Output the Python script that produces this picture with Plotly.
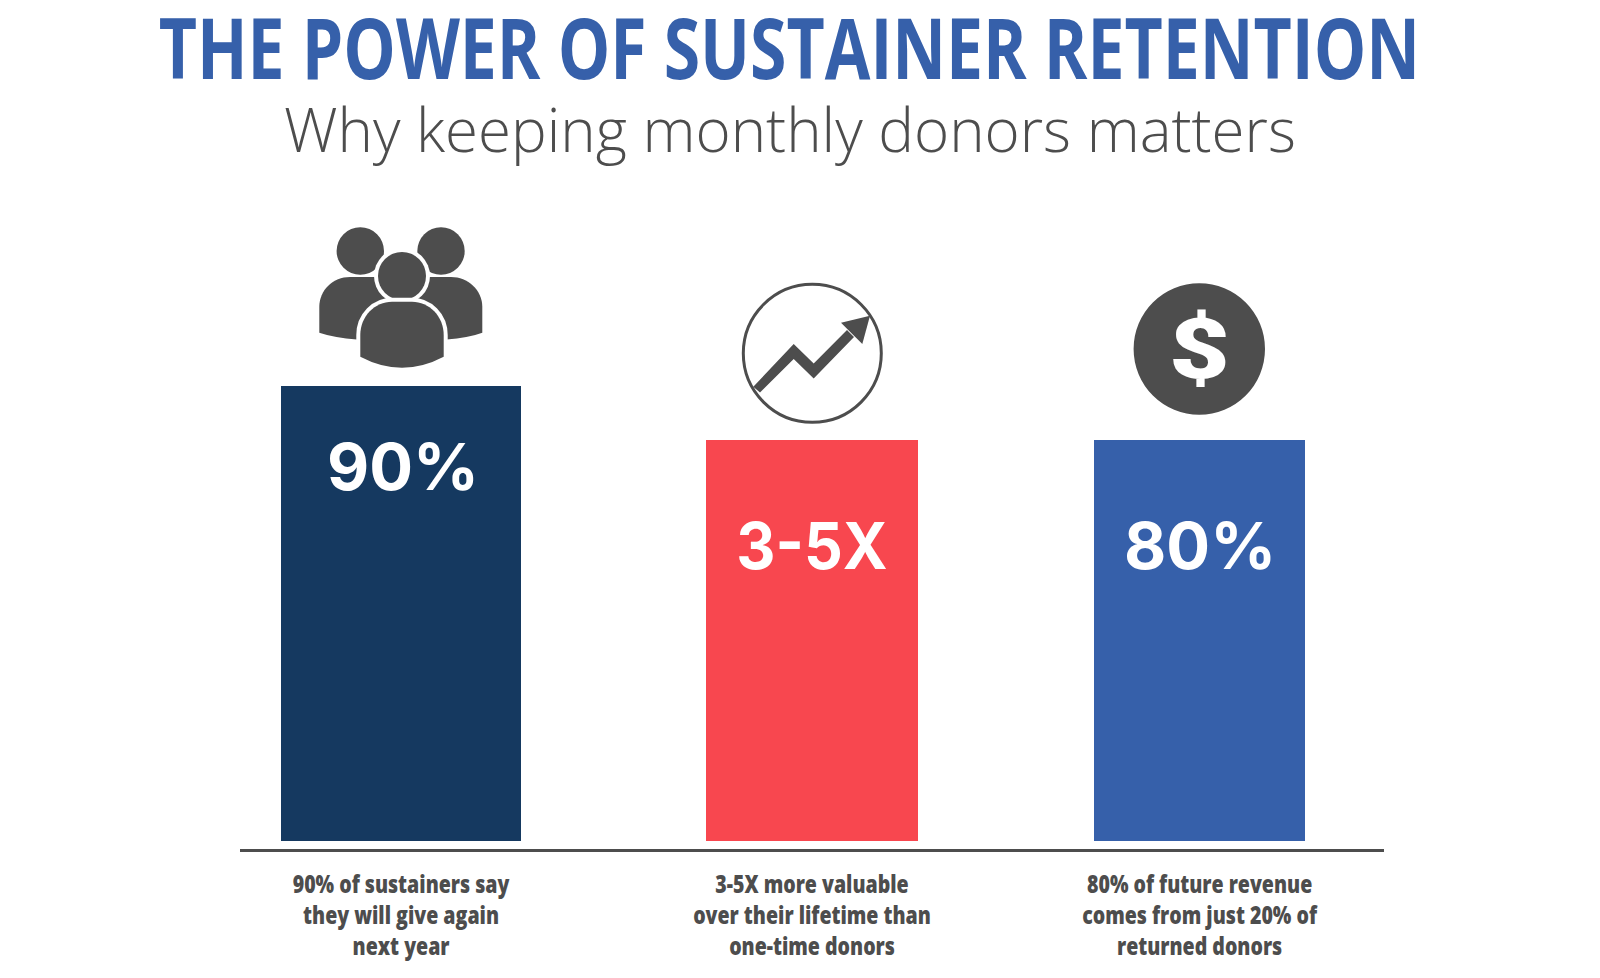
"""
The power of sustainer retention: three bars with icons on top.
"""

import plotly.graph_objects as go

# Data
categories = ["90% of sustainers", "3-5X more valuable", "80% of future revenue"]
bar_values = [90, 79.3, 79.3]
bar_labels = ["90%", "3-5X", "80%"]
tick_labels = [
    "90% of sustainers say<br>they will give again<br>next year",
    "3-5X more valuable<br>over their lifetime than<br>one-time donors",
    "80% of future revenue<br>comes from just 20% of<br>returned donors",
]

# Layout
BAR_CENTERS = [401, 812, 1199.5]
BAR_WIDTHS = [240, 212, 211]
BAR_COLORS = ["#153960", "#f8474f", "#3660aa"]
LABEL_Y = [466, 545, 545]
LABEL_X = [403, 812, 1199.5]
PX_PER_UNIT = 5.056
AXIS_PX = 849
ZERO_PX = 841
DARK = "#4d4d4d"
BLUE = "#3660aa"
TITLE = "THE POWER OF SUSTAINER RETENTION"

# No condensed font is installed, so squeeze Open Sans Bold sideways
SQUEEZE_JS = """
function squeeze(el, sx) {
    var box = el.getBBox();
    var cx = box.x + box.width / 2;
    var old = el.getAttribute('transform') || '';
    el.setAttribute('transform', old + ' translate(' + cx + ',0) scale(' + sx + ',1) translate(' + (-cx) + ',0)');
}
document.body.style.margin = '0';
var widths = {'$': 1.25, '3-5X': 0.935};
document.querySelectorAll('.annotation-text').forEach(function (el) {
    var text = el.textContent;
    if (text.indexOf('THE POWER') === 0) { squeeze(el, 0.787); }
    if (widths[text]) { squeeze(el, widths[text]); }
});
document.querySelectorAll('.xtick text').forEach(function (el) { squeeze(el, 0.815); });
"""

fig = go.Figure()

fig.add_trace(
    go.Bar(
        x=BAR_CENTERS,
        y=bar_values,
        width=BAR_WIDTHS,
        marker=dict(color=BAR_COLORS, line=dict(width=0)),
        customdata=categories,
        hoverinfo="skip",
    )
)

# Invisible trace so the pixel-style overlay axis exists for icons and text
fig.add_trace(go.Scatter(x=[], y=[], yaxis="y2", showlegend=False))


def add_path(path, color=DARK):
    fig.add_shape(
        type="path", path=path, xref="x", yref="y2",
        fillcolor=color, line=dict(width=0), layer="above",
    )


def add_circle(cx, cy, r, fill=DARK, line_color=None, line_width=0):
    fig.add_shape(
        type="circle", xref="x", yref="y2",
        x0=cx - r, x1=cx + r, y0=cy - r, y1=cy + r,
        fillcolor=fill, line=dict(width=line_width, color=line_color), layer="above",
    )


# People icon
add_circle(360.3, 251, 23.7)
add_circle(441, 251, 23.7)
add_path("M 350 277 L 390 277 L 390 339.5 L 356.7 339.5 Q 335 338 319.3 332.7 "
         "L 319.3 307 C 319.3 290 333 277 350 277 Z")
add_path("M 451 277 L 411 277 L 411 339.5 L 446.7 339.5 Q 468 338 482.3 332.7 "
         "L 482.3 307 C 482.3 290 468 277 451 277 Z")
add_circle(402, 276, 28, fill="white")
add_circle(402, 276, 24)
center_body = ("M 360.3 356.7 L 360.3 335 C 360.3 316 375 301.7 392 301.7 L 412 301.7 "
               "C 429 301.7 443.7 316 443.7 335 L 443.7 356.7 Q 402 378.7 360.3 356.7 Z")
fig.add_shape(
    type="path", path=center_body, xref="x", yref="y2",
    fillcolor="white", line=dict(width=8, color="white"), layer="above",
)
add_path(center_body)

# Growth icon
add_circle(812.3, 353.3, 69, fill="rgba(0,0,0,0)", line_color=DARK, line_width=3)
add_path("M 753.3 386.7 L 793.7 344 L 813.7 363.5 L 847 330 L 854 337 "
         "L 813.7 378.5 L 793.7 359 L 760 392.5 Z")
add_path("M 870 315.7 L 841 322.7 L 862.3 344 Z")

# Dollar icon
add_circle(1199.3, 349, 65.7)

annotations = []


def add_text(text, x, y, family, size, color, weight=400):
    annotations.append(
        dict(
            text=text, x=x, y=y, xref="x", yref="y2", showarrow=False,
            xanchor="center", yanchor="middle",
            font=dict(family=family, size=size, color=color, weight=weight),
        )
    )


add_text(TITLE, 789, 46, "Open Sans", 84, BLUE, 700)
add_text("Why keeping monthly donors matters", 789.5, 129, "Open Sans", 60, DARK, 300)
add_text("$", 1199.3, 349, "Roboto", 84, "white", 900)
for x, label, y in zip(LABEL_X, bar_labels, LABEL_Y):
    add_text(label, x, y, "Inter", 65, "white", 700)

fig.update_layout(
    width=1600,
    height=978,
    margin=dict(l=0, r=0, t=0, b=978 - AXIS_PX),
    paper_bgcolor="white",
    plot_bgcolor="white",
    showlegend=False,
    annotations=annotations,
    xaxis=dict(
        domain=[240 / 1600, 1384 / 1600],
        range=[240, 1384],
        tickmode="array",
        tickvals=BAR_CENTERS,
        ticktext=tick_labels,
        ticks="",
        ticklabelstandoff=12,
        tickfont=dict(family="Open Sans", size=24, color=DARK, weight=800),
        showline=True,
        linecolor=DARK,
        linewidth=3,
        showgrid=False,
        zeroline=False,
    ),
    yaxis=dict(
        range=[(ZERO_PX - AXIS_PX) / PX_PER_UNIT, ZERO_PX / PX_PER_UNIT],
        visible=False,
    ),
    yaxis2=dict(range=[AXIS_PX, 0], overlaying="y", visible=False),
)

fig.write_html("out.html", post_script=SQUEEZE_JS, config={"displayModeBar": False})
